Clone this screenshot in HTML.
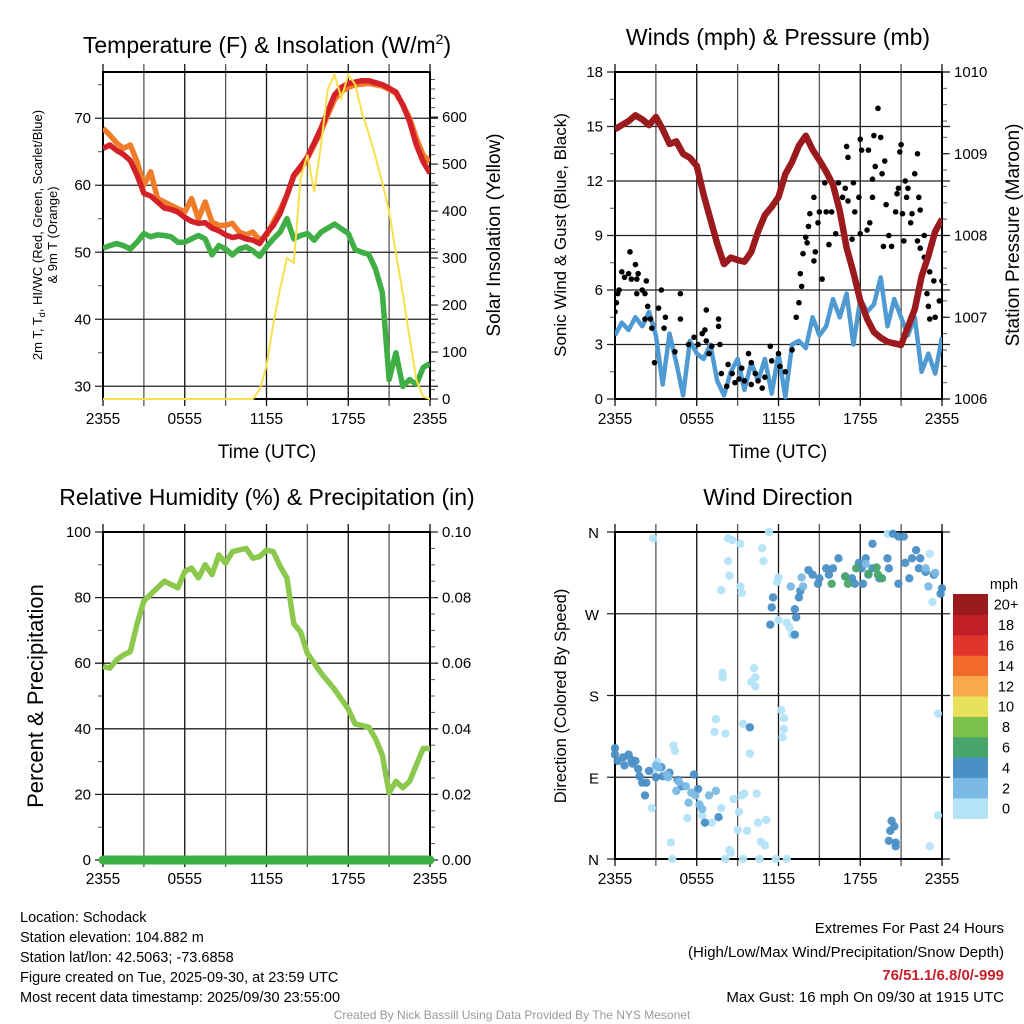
<!DOCTYPE html>
<html><head><meta charset="utf-8"><style>
body{margin:0;background:#fff;width:1024px;height:1024px;overflow:hidden;font-family:"Liberation Sans",Arial,sans-serif;}
svg{position:absolute;left:0;top:0}
</style></head><body>
<svg id="c" width="1024" height="1024" viewBox="0 0 1024 1024" xmlns="http://www.w3.org/2000/svg" font-family="Liberation Sans, Arial, sans-serif">
<text x="267" y="53" font-size="23" text-anchor="middle">Temperature (F) &amp; Insolation (W/m<tspan font-size="14" dy="-9">2</tspan><tspan dy="9">)</tspan></text>
<text x="778" y="45" font-size="23" text-anchor="middle">Winds (mph) &amp; Pressure (mb)</text>
<text x="267" y="505" font-size="23" text-anchor="middle">Relative Humidity (%) &amp; Precipitation (in)</text>
<text x="778" y="505" font-size="23" text-anchor="middle">Wind Direction</text>

<text transform="translate(42,235) rotate(-90)" font-size="13" text-anchor="middle">2m T, T<tspan font-size="9" dy="3">d</tspan><tspan dy="-3">, HI/WC (Red, Green, Scarlet/Blue)</tspan></text>
<text transform="translate(57,235) rotate(-90)" font-size="13" text-anchor="middle">&amp; 9m T (Orange)</text>
<text transform="translate(500,235) rotate(-90)" font-size="19" text-anchor="middle">Solar Insolation (Yellow)</text>
<text x="267" y="458" font-size="19" text-anchor="middle">Time (UTC)</text>
<text x="778" y="458" font-size="19" text-anchor="middle">Time (UTC)</text>
<text transform="translate(566,235) rotate(-90)" font-size="17" text-anchor="middle">Sonic Wind &amp; Gust (Blue, Black)</text>
<text transform="translate(1019,235) rotate(-90)" font-size="19" text-anchor="middle">Station Pressure (Maroon)</text>
<text transform="translate(43,696) rotate(-90)" font-size="22" text-anchor="middle">Percent &amp; Precipitation</text>
<text transform="translate(566,696) rotate(-90)" font-size="16.5" text-anchor="middle">Direction (Colored By Speed)</text>

<g font-size="14.5">
<text x="20" y="922">Location: Schodack</text>
<text x="20" y="942">Station elevation: 104.882 m</text>
<text x="20" y="962">Station lat/lon: 42.5063; -73.6858</text>
<text x="20" y="982">Figure created on Tue, 2025-09-30, at 23:59 UTC</text>
<text x="20" y="1002">Most recent data timestamp: 2025/09/30 23:55:00</text>
</g>
<g font-size="15" text-anchor="end">
<text x="1004" y="933">Extremes For Past 24 Hours</text>
<text x="1004" y="957">(High/Low/Max Wind/Precipitation/Snow Depth)</text>
<text x="1004" y="980" fill="#c8202a" font-weight="bold">76/51.1/6.8/0/-999</text>
<text x="1004" y="1002">Max Gust: 16 mph On 09/30 at 1915 UTC</text>
</g>
<text x="512" y="1019" font-size="12" fill="#999" text-anchor="middle">Created By Nick Bassill Using Data Provided By The NYS Mesonet</text>
</svg>
<script>
// ---------- DATA (half-hour resolution, hours since 2355) ----------
const xTickLabels = ["2355","0555","1155","1755","2355"];
const temp2m = [65.5,66,65.2,64.6,63.7,61.5,58.8,58.4,57.5,56.6,56.4,56,55.2,54.6,54.3,54.4,53.6,53.2,52.6,52.2,52.4,52,51.8,51.3,52.8,54,55.8,58.5,61.5,62.8,64.2,66.3,68.5,71,73.5,74.6,75.2,75.4,75.6,75.6,75.3,75,74.5,73.9,72,69.5,66,63.5,61.8];
const temp9m = [68.5,67.5,66.3,65.5,66,63.5,60,62,58,57.5,57,56.5,56,58,55,57.5,54.5,54,54,54.3,53,52.6,53,51.8,52.5,54.5,56.3,58.5,61.3,62.5,64,66,68,70.5,72.8,74,74.6,75,75.1,75.2,75,74.8,74.3,73.7,72,70,67,64.5,63.5];
const dewpoint = [50.6,51,51.3,51,50.5,51.5,52.8,52.3,52.6,52.5,52.3,51.5,51.5,52,52.5,52,49.6,51,50.5,49.6,50.5,50.8,50.2,49.4,50.8,52,53,55,52,52.5,52.8,51.8,53,53.6,54.2,53.5,52.8,50.4,50,49.7,47.5,44,31,35,30,31,30.3,32.8,33.4];
const solar = [0,0,0,0,0,0,0,0,0,0,0,0,0,0,0,0,0,0,0,0,0,0,0,20,70,160,235,300,290,470,520,440,540,660,690,640,690,670,610,565,515,460,400,310,225,130,40,5,0];
const tempTicks = [30,40,50,60,70];
const solarTicks = [0,100,200,300,400,500,600];
const sonicWind = [3.5,4.2,3.8,4.5,4.0,4.8,3.5,0.8,3.6,2.0,0.2,3.2,2.5,2.2,3.0,1.0,0.2,1.5,2.2,0.5,2.0,1.0,2.2,0.3,2.5,0.1,3.0,3.2,2.8,4.5,3.5,4.0,5.5,4.5,5.8,3.0,5.5,4.8,5.2,6.7,4.0,5.5,4.5,3.5,4.5,1.5,2.5,1.4,3.4];
const pressure = [1009.3,1009.35,1009.4,1009.47,1009.42,1009.35,1009.45,1009.3,1009.12,1009.15,1009.0,1008.95,1008.85,1008.5,1008.2,1007.9,1007.65,1007.73,1007.7,1007.68,1007.8,1008.05,1008.25,1008.35,1008.47,1008.75,1008.9,1009.1,1009.22,1009.05,1008.92,1008.78,1008.62,1008.3,1007.85,1007.55,1007.2,1006.98,1006.82,1006.75,1006.7,1006.68,1006.66,1006.88,1007.1,1007.5,1007.75,1008.05,1008.2];
const gustHours = [0,0.1,0.2,0.3,0.5,0.7,1.0,1.1,1.2,1.5,1.6,1.7,2.0,2.2,2.3,1.6,2.4,2.2,2.6,2.7,3.2,3.4,3.7,3.6,2.9,4.4,4.8,4.8,5.4,5.8,6.1,6.4,6.6,6.7,6.7,7.1,7.6,7.6,7.7,6.9,8.3,8.6,9.1,9.3,9.8,10.0,10.3,10.5,11.0,11.4,11.5,12.0,12.1,12.5,7.8,8.8,9.5,10.0,10.8,8.2,13.0,13.3,13.5,13.6,13.7,13.8,14.0,14.1,14.2,14.3,14.6,14.6,14.7,14.9,15.0,15.4,15.5,15.7,15.2,15.9,16.2,16.4,16.7,16.9,17.0,17.1,17.1,17.4,17.5,17.6,17.9,18.0,18.0,18.1,18.5,18.6,18.7,18.9,18.9,19.0,19.1,19.3,19.5,19.6,19.7,19.8,19.9,20.1,20.3,20.6,20.7,20.8,20.9,21.0,21.1,21.2,21.3,21.4,21.5,21.7,21.8,22.0,22.2,22.3,22.4,22.7,22.2,22.4,22.7,23.1,23.4,23.0,23.1,23.5,23.8,24.0,22.9];
const gustValues = [4.8,5.3,5.8,6.0,7.0,6.7,6.9,8.1,6.6,7.4,6.6,6.9,6.0,5.8,6.5,5.8,5.1,4.4,4.4,3.9,5.0,6.0,4.5,3.9,2.0,2.6,5.8,4.4,3.0,3.4,3.0,3.6,3.8,4.9,3.2,2.9,4.4,4.0,3.0,2.5,1.9,1.4,1.1,1.7,2.5,2.0,1.4,1.0,1.2,2.9,2.1,2.5,1.8,1.5,1.4,0.9,1.0,0.8,0.6,0.7,2.7,4.5,5.3,6.9,6.2,8.0,8.9,8.6,9.5,10.2,11.1,7.6,8.1,9.7,10.3,11.9,10.3,8.5,6.6,10.3,9.1,11.9,11.1,11.6,13.9,13.3,10.9,8.8,11.9,10.3,11.1,14.3,9.1,13.7,9.3,13.7,9.7,11.1,12.1,14.5,12.8,16.0,14.4,12.4,8.4,13.1,10.7,9.0,8.4,10.3,11.3,11.6,13.6,14.0,10.2,8.7,12.0,11.1,11.6,9.7,10.2,12.4,13.5,11.1,10.4,9.0,8.7,8.3,7.8,7.0,6.5,5.1,4.4,4.5,5.4,6.5,5.8];
const windTicks = [0,3,6,9,12,15,18];
const pressTicks = [1006,1007,1008,1009,1010];
const rh = [59,58.5,61,62.5,63.5,72,79,81,83,85,84,83,88,89,86,90,87,93,90.5,94,94.5,95,92,92.5,94.5,94,89.5,86,72,69.5,63,60,57,54.5,52,49,46,41.5,41,40.5,37,32,20.5,24,22,24,29,34,34];
const precip = [0,0,0,0,0,0,0,0,0,0,0,0,0,0,0,0,0,0,0,0,0,0,0,0,0,0,0,0,0,0,0,0,0,0,0,0,0,0,0,0,0,0,0,0,0,0,0,0,0];
const rhTicks = [0,20,40,60,80,100];
const precipTickLabels = ["0.00","0.02","0.04","0.06","0.08","0.10"];
const dirHours = [2.8,8.3,8.6,9.2,11.3,10.8,8.3,8.4,7.8,9.2,9.3,10.9,12.0,11.9,12.0,12.6,12.8,13.0,7.9,7.9,10.2,10.3,10.3,10.0,12.2,12.4,12.4,12.3,7.4,7.3,8.1,4.3,4.4,9.9,3.1,2.8,9.4,2.7,5.3,6.4,7.1,7.8,8.7,9.3,9.5,10.4,9.1,9.0,9.7,10.5,11.1,4.1,10.7,11.0,8.4,8.5,4.2,8.1,9.4,10.6,11.8,12.6,23.1,23.3,23.7,23.7,23.1,20.0,20.4,
0.0,0.0,0.2,0.7,1.0,1.5,1.7,1.8,2.0,2.3,2.2,3.4,3.5,4.9,4.6,5.8,6.1,6.6,7.6,9.9,11.4,11.5,11.6,13.2,13.3,13.2,13.5,13.6,14.2,14.5,15.0,15.5,16.0,16.4,16.9,17.4,17.9,18.1,18.4,18.6,18.9,19.4,20.0,20.1,20.8,21.3,21.6,21.8,22.3,22.4,22.8,23.4,24.0,23.9,18.9,20.8,22.1,17.6,18.2,15.7,14.9,1.2,2.5,3.0,1.3,0.6,4.0,21.2,20.3,20.5,20.2,20.1,20.6,20.6,
3.0,3.2,3.8,3.9,4.5,5.2,5.4,5.6,5.9,6.4,6.9,7.4,13.7,13.8,18.4,22.8,23.0,23.5,12.9,4.7,6.2,
15.9,16.9,17.1,17.7,18.6,19.2,19.3,19.6];
const dirDegrees = [353,353,351,347,360,342,328,312,296,300,293,328,310,305,263,260,255,247,205,200,210,200,190,195,164,155,143,134,154,140,138,125,119,116,107,96,149,56,45,48,40,56,66,70,72,72,52,32,31,40,43,18,19,15,10,7,0,0,0,0,0,0,336,283,160,48,14,358,358,
122,115,108,103,115,108,99,91,84,84,70,101,91,80,87,93,77,40,46,145,258,277,288,247,266,275,288,295,318,313,309,320,320,331,311,309,326,320,331,313,320,309,331,320,303,326,309,331,320,331,316,313,298,292,347,355,340,303,303,313,303,109,97,90,105,112,95,355,42,36,31,20,18,14,
103,101,93,90,75,80,62,73,70,55,70,75,310,300,325,320,300,315,300,85,60,
303,311,303,320,314,321,313,309];
const dirSpeedBins = [0,0,0,0,0,0,0,0,0,0,0,0,0,0,0,0,0,0,0,0,0,0,0,0,0,0,0,0,0,0,0,0,0,0,0,0,0,0,0,0,0,0,0,0,0,0,0,0,0,0,0,0,0,0,0,0,0,0,0,0,0,0,0,0,0,0,0,0,4,
4,4,4,4,4,4,4,4,4,4,4,4,4,4,4,4,4,4,4,4,4,4,4,4,4,4,4,4,4,4,4,4,4,4,4,4,4,4,4,4,4,4,4,4,4,4,4,4,4,4,4,4,4,4,4,4,4,4,4,4,4,4,4,4,4,4,4,4,4,4,4,4,4,4,
2,2,2,2,2,2,2,2,2,2,2,2,2,2,2,2,2,2,2,2,2,
6,6,6,6,6,6,6,6];
const dirTickLabels = ["N","E","S","W","N"];
const speedBinLabels = ["0","2","4","6","8","10","12","14","16","18","20+"];
const speedBinColors = ["#b4e3f8","#7ab9e4","#4a8fc6","#48a56b","#7cc24a","#e8e15a","#f8a94a","#f26a2b","#e0352a","#c21e26","#9b1a1e"];

// ---------- RENDER ----------
const NS="http://www.w3.org/2000/svg";
const svg=document.getElementById('c');
function mk(tag,attrs,parent){const e=document.createElementNS(NS,tag);for(const k in attrs)e.setAttribute(k,attrs[k]);(parent||svg).appendChild(e);return e;}
const panels={
 p1:{x0:103,x1:430,y0:72,y1:399},
 p2:{x0:615,x1:942,y0:72,y1:399},
 p3:{x0:103,x1:430,y0:532,y1:860},
 p4:{x0:615,x1:942,y0:532,y1:859}
};
function xs(p,h){return p.x0+(p.x1-p.x0)*h/24;}
function ys(p,v,lo,hi){return p.y1-(p.y1-p.y0)*(v-lo)/(hi-lo);}
function txt(x,y,s,size,anchor,parent){const t=mk('text',{x:x,y:y,'font-size':size,'text-anchor':anchor||'middle'},parent);t.textContent=s;return t;}

function frame(p,name,hTicks,minorL,minorR,tickLabelY){
 const g=mk('g',{});
 
 
 for(let i=0;i<=8;i++){const x=xs(p,i*3);
  mk('line',{x1:x,x2:x,y1:p.y0-8,y2:p.y1+7,stroke:i%2?'#555':'#111','stroke-width':1.3},g);}
 hTicks.forEach(y=>{mk('line',{x1:p.x0-8,x2:p.x1+8,y1:y,y2:y,stroke:'#222','stroke-width':1.3},g);});
 minorL.forEach(y=>mk('line',{x1:p.x0-5,x2:p.x0,y1:y,y2:y,stroke:'#555','stroke-width':1},g));
 minorR.forEach(y=>mk('line',{x1:p.x1,x2:p.x1+5,y1:y,y2:y,stroke:'#555','stroke-width':1},g));
 mk('rect',{x:p.x0,y:p.y0,width:p.x1-p.x0,height:p.y1-p.y0,fill:'none',stroke:'#000','stroke-width':2},g);
 xTickLabels.forEach((s,i)=>{txt(xs(p,i*6),tickLabelY,s,15.5,'middle',g);});
 return g;
}
function linePath(p,arr,lo,hi){return arr.map((v,i)=>(i?'L':'M')+xs(p,i*24/(arr.length-1)).toFixed(1)+','+ys(p,v,lo,hi).toFixed(1)).join(' ');}

// Panel 1
(function(){
 const p=panels.p1,lo=28.1,hi=76.9,slo=0,shi=696;
 const major=tempTicks.map(v=>ys(p,v,lo,hi));
 const minL=[];for(let v=35;v<=75;v+=10)minL.push(ys(p,v,lo,hi));
 const minR=[];for(let v=0;v<=690;v+=20)minR.push(ys(p,v,slo,shi));
 frame(p,'temperature',major,minL,minR,424);
 tempTicks.forEach(v=>{const t=txt(p.x0-12,ys(p,v,lo,hi)+5,String(v),15,'end');});
 solarTicks.forEach(v=>{const y=ys(p,v,slo,shi);mk('line',{x1:p.x1,x2:p.x1+8,y1:y,y2:y,stroke:'#000'});const t=txt(p.x1+12,y+5,String(v),15,'start');});
 const cp=mk('clipPath',{id:'cp1'});mk('rect',{x:p.x0,y:p.y0,width:p.x1-p.x0,height:p.y1-p.y0+2},cp);
 const g=mk('g',{'clip-path':'url(#cp1)'});
 let e;
 e=mk('path',{d:linePath(p,temp9m,lo,hi),fill:'none',stroke:'#f07c2a','stroke-width':5.5,'stroke-linejoin':'round'},g);
 
 e=mk('path',{d:linePath(p,temp2m,lo,hi),fill:'none',stroke:'#d42128','stroke-width':5.5,'stroke-linejoin':'round'},g);
 
 e=mk('path',{d:linePath(p,dewpoint,lo,hi),fill:'none',stroke:'#3fae45','stroke-width':5.5,'stroke-linejoin':'round'},g);
 
 e=mk('path',{d:linePath(p,solar,slo,shi),fill:'none',stroke:'#f9e04a','stroke-width':2},g);
 
})();

// Panel 2
(function(){
 const p=panels.p2,lo=0,hi=18,plo=1006,phi=1010;
 const major=windTicks.map(v=>ys(p,v,lo,hi));
 const minL=[];for(let v=1.5;v<18;v+=3)minL.push(ys(p,v,lo,hi));
 const minR=[];for(let v=1006.2;v<1010;v+=0.2)minR.push(ys(p,v,plo,phi));
 frame(p,'winds',major,minL,minR,424);
 windTicks.forEach(v=>{const t=txt(p.x0-12,ys(p,v,lo,hi)+5,String(v),15,'end');});
 pressTicks.forEach(v=>{const y=ys(p,v,plo,phi);mk('line',{x1:p.x1,x2:p.x1+8,y1:y,y2:y,stroke:'#000'});const t=txt(p.x1+12,y+5,String(v),15,'start');});
 const cp=mk('clipPath',{id:'cp2'});mk('rect',{x:p.x0,y:p.y0,width:p.x1-p.x0,height:p.y1-p.y0+2},cp);
 const g=mk('g',{'clip-path':'url(#cp2)'});
 let e=mk('path',{d:linePath(p,sonicWind,lo,hi),fill:'none',stroke:'#4f9ad3','stroke-width':4.5,'stroke-linejoin':'round'},g);
 
 gustHours.forEach((h,i)=>{const c=mk('circle',{cx:xs(p,h),cy:ys(p,gustValues[i],lo,hi),r:2.8,fill:'#000'},g);
  
  });
 e=mk('path',{d:linePath(p,pressure,plo,phi),fill:'none',stroke:'#9b1a1e','stroke-width':6.5,'stroke-linejoin':'round'},g);
 
})();

// Panel 3
(function(){
 const p=panels.p3,lo=0,hi=100;
 const major=rhTicks.map(v=>ys(p,v,lo,hi));
 const minL=[];for(let v=10;v<100;v+=20)minL.push(ys(p,v,lo,hi));
 const minR=[];for(let v=5;v<100;v+=5)minR.push(ys(p,v,lo,hi));
 frame(p,'humidity',major,minL,minR,884);
 rhTicks.forEach(v=>{const t=txt(p.x0-12,ys(p,v,lo,hi)+5,String(v),15,'end');});
 precipTickLabels.forEach((s,i)=>{const t=txt(p.x1+12,ys(p,rhTicks[i],lo,hi)+5,s,15,'start');});
 let e=mk('path',{d:linePath(p,rh,lo,hi),fill:'none',stroke:'#8cc84b','stroke-width':5.5,'stroke-linejoin':'round'});
 
 e=mk('path',{d:linePath(p,precip.map(v=>v*1000),lo,hi),fill:'none',stroke:'#3cb043','stroke-width':9,'stroke-linecap':'round'});
 
})();

// Panel 4
(function(){
 const p=panels.p4,lo=0,hi=360;
 const major=[0,90,180,270,360].map(v=>ys(p,v,lo,hi));
 frame(p,'direction',major,[],[],884);
 dirTickLabels.forEach((s,i)=>{const t=txt(p.x0-16,ys(p,i*90,lo,hi)+6,s,15,'end');});
 const cp=mk('clipPath',{id:'cp4'});mk('rect',{x:p.x0-4,y:p.y0-4,width:p.x1-p.x0+8,height:p.y1-p.y0+8},cp);
 const g=mk('g',{'clip-path':'url(#cp4)'});
 dirHours.forEach((h,i)=>{const c=mk('circle',{cx:xs(p,h),cy:ys(p,dirDegrees[i],lo,hi),r:4.2,fill:speedBinColors[dirSpeedBins[i]/2],'fill-opacity':0.95},g);
  
  });
 const cb=mk('g',{});
 
 
 const bx=953,bw=35,bt=594,bh=20.4;
 txt(1004,589,'mph',14.5,'middle',cb);
 speedBinLabels.forEach((s,i)=>{const k=speedBinLabels.length-1-i;const y=bt+k*bh;
  const r=mk('rect',{x:bx,y:y,width:bw,height:bh+0.5,fill:speedBinColors[i]},cb);
  
  
  txt(1006,y+bh/2+5.5,s,14.5,'middle',cb);});
})();
</script>
</body></html>
